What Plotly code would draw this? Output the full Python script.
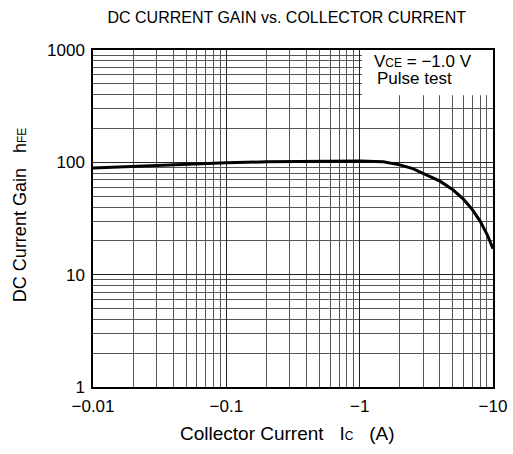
import plotly.graph_objects as go

# Collector current magnitude (A); axis labels show them as negative values
ic_abs = [0.01, 0.02, 0.05, 0.1, 0.2, 0.5, 1.0, 1.5, 2.0, 2.5, 3.0, 4.0, 5.0, 6.0, 7.0, 8.0, 9.0, 10.0]
hfe = [89, 92, 96, 99, 101, 103, 103, 101, 95, 88, 80, 68, 57, 47, 38, 30, 23, 17]

x_tickvals = [0.01, 0.1, 1, 10]
x_ticktext = ["\u22120.01", "\u22120.1", "\u22121", "\u221210"]
y_tickvals = [1, 10, 100, 1000]
y_ticktext = ["1", "10", "100", "1000"]

FONT = "Liberation Sans, Arial, sans-serif"
SMALL = "<span style='font-size:12px'>{}</span>"

fig = go.Figure()
fig.add_trace(go.Scatter(x=ic_abs, y=hfe, mode="lines",
                         line=dict(color="black", width=3),
                         showlegend=False, hoverinfo="skip"))

axis_common = dict(
    type="log", showline=True, linecolor="black", linewidth=1.5, mirror=True,
    showgrid=True, gridcolor="#222", gridwidth=1, ticks="", zeroline=False,
    automargin=False,
    tickfont=dict(family=FONT, size=17, color="black"),
    ticklabeloverflow="allow", ticklabelstandoff=3,
    minor=dict(showgrid=True, gridcolor="#555", gridwidth=1, dtick="D1"),
)

fig.update_xaxes(range=[-2, 1], tickvals=x_tickvals, ticktext=x_ticktext, **axis_common)
fig.update_yaxes(range=[0, 3], tickvals=y_tickvals, ticktext=y_ticktext, **axis_common)

# axis titles
fig.add_annotation(xref="paper", yref="paper", x=0.486, y=-0.1365, xanchor="center", yanchor="middle",
                   text="Collector Current   I" + SMALL.format("C") + "   (A)", showarrow=False,
                   font=dict(family=FONT, size=19, color="black"))
fig.add_annotation(xref="paper", yref="paper", x=-0.1825, y=0.51, xanchor="center", yanchor="middle",
                   text="DC Current Gain   h" + SMALL.format("FE"), showarrow=False, textangle=-90,
                   font=dict(family=FONT, size=18, color="black"))

# white condition box in the upper-right corner
fig.add_shape(type="rect", xref="paper", yref="paper", x0=0.6725, x1=1.0, y0=0.866, y1=1.0,
              fillcolor="white", line=dict(width=0), layer="above")
fig.add_annotation(xref="paper", yref="paper", x=0.6975, y=0.967, xanchor="left", yanchor="middle",
                   text="V" + SMALL.format("CE") + " = \u22121.0 V", showarrow=False,
                   font=dict(family=FONT, size=17, color="black"))
fig.add_annotation(xref="paper", yref="paper", x=0.705, y=0.914, xanchor="left", yanchor="middle",
                   text="Pulse test", showarrow=False,
                   font=dict(family=FONT, size=17, color="black"))

fig.update_layout(
    width=513, height=454,
    margin=dict(l=93, r=20, t=50, b=67, autoexpand=False),
    paper_bgcolor="white", plot_bgcolor="white",
    title=dict(text="DC CURRENT GAIN vs. COLLECTOR CURRENT", x=0.559, xanchor="center",
               y=0.9626, yanchor="middle",
               font=dict(family=FONT, size=16, color="black")),
)

fig.write_html("out.html", config={"displayModeBar": False},
               post_script="document.body.style.margin='0px';document.body.style.overflow='hidden';")
